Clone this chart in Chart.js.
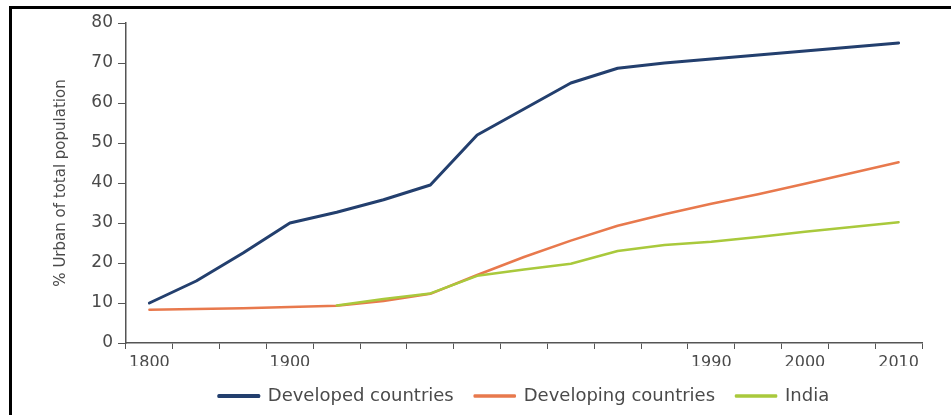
<!DOCTYPE html>
<html>
<head>
<meta charset="utf-8">
<script src="https://cdn.jsdelivr.net/npm/chart.js@4.4.1/dist/chart.umd.min.js"></script>
<style>
    html, body { margin: 0; padding: 0; background: #fff; overflow: hidden; }
    .frame { position: absolute; left: 9px; top: 6px; width: 1000px; height: 500px; border-left: 3px solid #000; border-top: 3px solid #000; }
    .chart-box { position: absolute; left: 0; top: 0; width: 951px; height: 415px; }
</style>
</head>
<body>
<div class="frame"></div>
<div class="chart-box"><canvas id="urbanChart"></canvas></div>
<script>
// x categories (only some are labelled on the original axis)
const years = ['1800', '', '', '1900', '', '', '', '', '', '', '', '', '1990', '', '2000', '', '2010'];

// % urban of total population
const developed = [10, 15.5, 22.5, 30, 32.7, 35.8, 39.5, 52, 58.5, 65, 68.7, 70, 71, 72, 73, 74, 75];
const developing = [8.3, 8.5, 8.7, 9.0, 9.3, 10.5, 12.3, 17, 21.5, 25.6, 29.3, 32.2, 34.8, 37.2, 39.8, 42.5, 45.2];
const india = [null, null, null, null, 9.4, 11, 12.4, 16.8, 18.4, 19.8, 23, 24.5, 25.3, 26.5, 27.8, 29, 30.2];

const yTicks = [0, 10, 20, 30, 40, 50, 60, 70, 80];

const textColor = '#4a4a4a';
const axisColor = '#555555';

Chart.defaults.font.family = '"DejaVu Sans", sans-serif';
Chart.defaults.color = textColor;

// keep the legend centred under the plot area, not the whole canvas
const legendUnderPlot = {
    id: 'legendUnderPlot',
    afterLayout(chart) {
        const area = chart.chartArea;
        const legend = chart.legend;
        legend.left = area.left + area.right - legend.right;
    }
};

const ctx = document.getElementById('urbanChart').getContext('2d');
new Chart(ctx, {
    type: 'line',
    data: {
        labels: years,
        datasets: [{
            label: 'Developed countries',
            data: developed,
            borderColor: '#233f6e',
            backgroundColor: '#233f6e',
            borderWidth: 3,
            order: 0
        }, {
            label: 'Developing countries',
            data: developing,
            borderColor: '#e8794d',
            backgroundColor: '#e8794d',
            borderWidth: 2.5,
            order: 2
        }, {
            label: 'India',
            data: india,
            borderColor: '#a9c93c',
            backgroundColor: '#a9c93c',
            borderWidth: 2.5,
            order: 1
        }]
    },
    options: {
        responsive: true,
        maintainAspectRatio: false,
        animation: false,
        elements: {
            point: { radius: 0 },
            line: { tension: 0, borderJoinStyle: 'round', borderCapStyle: 'round' }
        },
        layout: {
            padding: { left: 0, right: 29, top: 23, bottom: 0 }
        },
        plugins: {
            tooltip: { enabled: false },
            legend: {
                position: 'bottom',
                labels: {
                    boxWidth: 40,
                    boxHeight: 1,
                    padding: 21,
                    color: textColor,
                    font: { size: 18 },
                    sort: (a, b) => a.datasetIndex - b.datasetIndex
                }
            }
        },
        scales: {
            x: {
                offset: true,
                grid: {
                    offset: true,
                    drawOnChartArea: false,
                    tickLength: 6,
                    color: axisColor
                },
                border: { color: axisColor, width: 1.5 },
                ticks: {
                    autoSkip: false,
                    maxRotation: 0,
                    padding: 4,
                    color: textColor,
                    font: { size: 16 }
                },
                afterFit: (scale) => { scale.height = 23; }
            },
            y: {
                min: 0,
                max: 80,
                afterBuildTicks: (scale) => { scale.ticks = yTicks.map(v => ({ value: v })); },
                grid: {
                    drawOnChartArea: false,
                    tickLength: 8,
                    color: axisColor
                },
                border: { color: axisColor, width: 1.5 },
                ticks: {
                    padding: 5,
                    color: textColor,
                    font: { size: 17 }
                },
                title: {
                    display: true,
                    text: '% Urban of total population',
                    color: textColor,
                    font: { size: 15 },
                    padding: { top: 52, bottom: 0 }
                },
                afterFit: (scale) => { scale.width = 126; }
            }
        }
    },
    plugins: [legendUnderPlot]
});
</script>
</body>
</html>
